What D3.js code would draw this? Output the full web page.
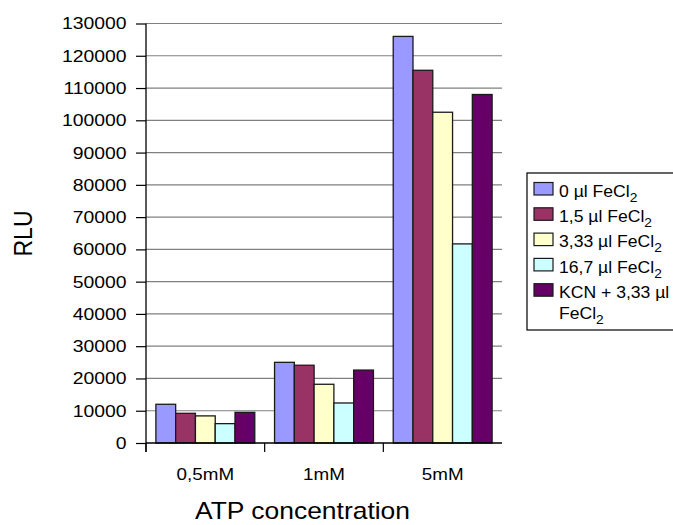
<!DOCTYPE html>
<html>
<head>
<meta charset="utf-8">
<script src="https://cdn.jsdelivr.net/npm/d3@7"></script>
<style>
  html, body { margin: 0; padding: 0; background: #fff; }
  text { font-family: "Liberation Sans", Arial, Helvetica, sans-serif; fill: #000; }
</style>
</head>
<body>
<svg id="chart" width="673" height="525"></svg>
<script>
// ---- data ----
const categories = ["0,5mM", "1mM", "5mM"];
const seriesNames = ["0 µl FeCl", "1,5 µl FeCl", "3,33 µl FeCl", "16,7 µl FeCl", "KCN + 3,33 µl|FeCl"];
const seriesColors = ["#9999FF", "#993366", "#FFFFCC", "#CCFFFF", "#660066"];
const s0 = [12000, 25000, 126000];
const s1 = [9200, 24100, 115500];
const s2 = [8400, 18200, 102500];
const s3 = [6000, 12400, 61700];
const s4 = [9500, 22600, 108000];
const yTicks = [0, 10000, 20000, 30000, 40000, 50000, 60000, 70000, 80000, 90000, 100000, 110000, 120000, 130000];
const xTitle = "ATP concentration";
const yTitle = "RLU";

const series = [s0, s1, s2, s3, s4];
const SX = 1.14; // horizontal stretch of the reference text

const svg = d3.select("#chart");
const pLeft = 146, pRight = 502, pTop = 23.5, pBottom = 443;

const y = d3.scaleLinear().domain([0, 130000]).range([pBottom, pTop]);
const x0 = d3.scaleBand().domain(categories).range([pLeft, pRight]).padding(0);
const step = x0.bandwidth();
const x1 = d3.scaleBand().domain(d3.range(series.length))
  .range([step / 12, step - step / 12]).padding(0);

// gridlines
svg.append("g").selectAll("line").data(yTicks.filter(d => d > 0)).join("line")
  .attr("x1", pLeft).attr("x2", pRight)
  .attr("y1", d => y(d)).attr("y2", d => y(d))
  .attr("stroke", "#808080").attr("stroke-width", 1.2);

// bars
const groups = svg.append("g").selectAll("g").data(categories).join("g")
  .attr("transform", d => `translate(${x0(d)},0)`);
groups.selectAll("rect.bar")
  .data((c, ci) => series.map((s, si) => ({ si, v: s[ci] })))
  .join("rect").attr("class", "bar")
  .attr("x", d => x1(d.si)).attr("width", x1.bandwidth())
  .attr("y", d => y(d.v)).attr("height", d => y(0) - y(d.v))
  .attr("fill", d => seriesColors[d.si])
  .attr("stroke", "#1a1a1a").attr("stroke-width", 1.3);

// y axis
const yAxis = svg.append("g").attr("transform", `translate(${pLeft},0)`)
  .call(d3.axisLeft(y).tickValues(yTicks).tickSize(10).tickPadding(7).tickFormat(d3.format("d")));
yAxis.select(".domain").attr("stroke", "#000").attr("stroke-width", 1.3)
  .attr("d", `M0,${pTop}V${pBottom + 9}`);
yAxis.selectAll(".tick line").attr("stroke", "#000").attr("stroke-width", 1.2);
yAxis.selectAll(".tick text")
  .attr("font-size", 17).attr("font-family", "Liberation Sans, Arial, sans-serif")
  .attr("fill", "#000")
  .attr("transform", `scale(${SX},1)`);

// x axis
svg.append("line").attr("x1", pLeft).attr("x2", pRight).attr("y1", pBottom).attr("y2", pBottom)
  .attr("stroke", "#000").attr("stroke-width", 1.6);
svg.append("g").selectAll("line").data(categories).join("line")
  .attr("x1", d => x0(d)).attr("x2", d => x0(d))
  .attr("y1", pBottom).attr("y2", pBottom + 9)
  .attr("stroke", "#000").attr("stroke-width", 1.2);
svg.append("g").selectAll("text").data(categories).join("text")
  .attr("transform", d => `translate(${x0(d) + step / 2},480) scale(${SX},1)`)
  .attr("text-anchor", "middle").attr("font-size", 16.5)
  .text(d => d);

// axis titles
svg.append("text")
  .attr("transform", `translate(302.5,519.3) scale(${SX + 0.01},1)`)
  .attr("text-anchor", "middle").attr("font-size", 23)
  .text(xTitle);
svg.append("text")
  .attr("transform", `translate(32.3,233.5) scale(${SX + 0.01},1) rotate(-90)`)
  .attr("text-anchor", "middle").attr("font-size", 23)
  .text(yTitle);

// legend
const lg = svg.append("g");
lg.append("rect").attr("x", 527).attr("y", 173).attr("width", 160).attr("height", 157)
  .attr("fill", "#fff").attr("stroke", "#000").attr("stroke-width", 1.2);
const items = lg.selectAll("g.item").data(seriesNames).join("g").attr("class", "item")
  .attr("transform", (d, i) => `translate(0,${i * 25.3})`);
items.append("rect").attr("x", 534).attr("y", 182.5).attr("width", 19).attr("height", 12.5)
  .attr("fill", (d, i) => seriesColors[i]).attr("stroke", "#1a1a1a").attr("stroke-width", 1.2);
items.each(function(d) {
  const g = d3.select(this);
  const lines = d.split("|");
  lines.forEach((ln, li) => {
    const t = g.append("text")
      .attr("transform", `translate(559,${196.7 + li * 21.5}) scale(1.1,1)`)
      .attr("font-size", 16);
    t.append("tspan").text(ln);
    if (li === lines.length - 1) {
      t.append("tspan").attr("font-size", 12.5).attr("dy", 5).text("2");
    }
  });
});
</script>
</body>
</html>
